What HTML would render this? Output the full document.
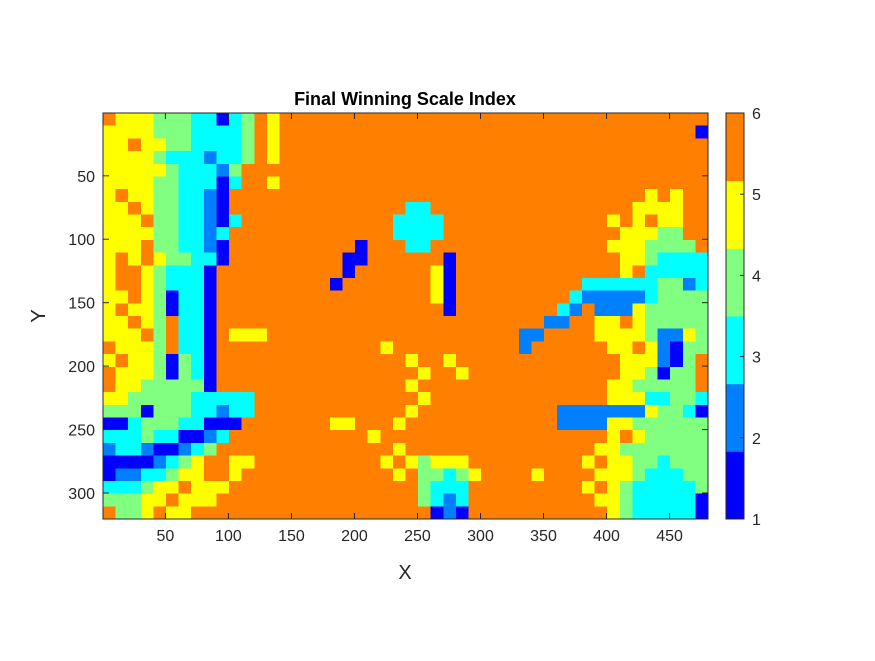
<!DOCTYPE html>
<html><head><meta charset="utf-8"><style>
html,body{margin:0;padding:0;background:#fff;}
svg text{font-family:"Liberation Sans",Arial,sans-serif;fill:#262626;}
</style></head><body>
<svg id="chart" width="875" height="656" viewBox="0 0 875 656" xmlns="http://www.w3.org/2000/svg">
<rect width="875" height="656" fill="#fff"/>
<text x="405" y="105" text-anchor="middle" font-size="18" font-weight="bold" style="fill:#000">Final Winning Scale Index</text>
<g id="heat" shape-rendering="crispEdges"></g>
<g id="axes"></g>
<g id="cbar"></g>
<text x="405" y="579" text-anchor="middle" font-size="20">X</text>
<text x="0" y="0" transform="translate(45,316) rotate(-90)" text-anchor="middle" font-size="20">Y</text>
</svg>
<script>
const xTicks = [50,100,150,200,250,300,350,400,450];
const yTicks = [50,100,150,200,250,300];
const cbarTicks = [1,2,3,4,5,6];
const levelColors = ["#0000FF","#0080FF","#00FFFF","#80FF80","#FFFF00","#FF8000"];
const cellSize = 10;
const gridRows = [
"655544433134"+"656666666666"+"666666666666"+"666666666666",
"555544433334"+"656666666666"+"666666666666"+"666666666661",
"556554433334"+"656666666666"+"666666666666"+"666666666666",
"555543332334"+"656666666666"+"666666666666"+"666666666666",
"555554333246"+"666666666666"+"666666666666"+"666666666666",
"555544333136"+"656666666666"+"666666666666"+"666666666666",
"565544332166"+"666666666666"+"666666666666"+"666666656566",
"556544332166"+"666666666666"+"336666666666"+"666666555566",
"555644332136"+"666666666663"+"333666666666"+"666656565566",
"555544332366"+"666666666663"+"333666666666"+"666665554466",
"555644332166"+"666666661666"+"336666666666"+"666655544446",
"565654433166"+"666666611666"+"666166666666"+"666665543333",
"566543331666"+"666666616666"+"665166666666"+"666665633333",
"566543331666"+"666666166666"+"665166666666"+"663333334423",
"556541331666"+"666666666666"+"665166666666"+"632222234444",
"565541331666"+"666666666666"+"666166666666"+"326222544444",
"556546331666"+"666666666666"+"666666666662"+"266556544444",
"555646331655"+"566666666666"+"666666666226"+"666555542254",
"655546331666"+"666666666656"+"666666666266"+"666655652144",
"565541431666"+"666666666666"+"566566666666"+"666665552146",
"655541431666"+"666666666666"+"656656666666"+"666665541446",
"655444441666"+"666666666666"+"566666666666"+"666655444446",
"554444433333"+"666666666666"+"656666666666"+"666655533443",
"444144433233"+"666666666666"+"566666666666"+"222222254431",
"113444331116"+"666666556665"+"666666666666"+"222255444444",
"333433112366"+"666666666566"+"666666666666"+"666656544444",
"233211234666"+"666666666665"+"666666666666"+"666554444444",
"111123456655"+"666666666656"+"545556666666"+"665655443444",
"122334556656"+"666666666665"+"644345666656"+"666555433344",
"333455655566"+"666666666666"+"643336666666"+"665654333334",
"444556555666"+"666666666666"+"643236666666"+"666554333331",
"644565566666"+"666666666666"+"661216666666"+"666654333331"
];
const NS="http://www.w3.org/2000/svg";
const L=103,R=708,T=113,B=519;
const xScale=v=>L+(v-0.5)/480*(R-L);
const yScale=v=>T+(v-0.5)/320*(B-T);
const heat=document.getElementById('heat');
gridRows.forEach((row,r)=>{
  for(let c=0;c<row.length;c++){
    const v=+row[c];
    const x0=xScale(c*cellSize+0.5), x1=xScale((c+1)*cellSize+0.5);
    const y0=yScale(r*cellSize+0.5), y1=yScale((r+1)*cellSize+0.5);
    const rc=document.createElementNS(NS,'rect');
    rc.setAttribute('x',x0.toFixed(2));rc.setAttribute('y',y0.toFixed(2));
    rc.setAttribute('width',(x1-x0+0.6).toFixed(2));rc.setAttribute('height',(y1-y0+0.6).toFixed(2));
    rc.setAttribute('fill',levelColors[v-1]);
    
    
    heat.appendChild(rc);
  }
});
const axes=document.getElementById('axes');
function line(g,x1,y1,x2,y2,name){const l=document.createElementNS(NS,'line');
  l.setAttribute('x1',x1);l.setAttribute('y1',y1);l.setAttribute('x2',x2);l.setAttribute('y2',y2);
  l.setAttribute('stroke','#262626');l.setAttribute('stroke-width','1');
  
  
  g.appendChild(l);return l;}
function text(g,x,y,s,anchor,name){const t=document.createElementNS(NS,'text');
  t.setAttribute('x',x);t.setAttribute('y',y);t.setAttribute('font-size','16');t.setAttribute('text-anchor',anchor);
  t.textContent=s;
  
  
  g.appendChild(t);}
const box=document.createElementNS(NS,'rect');
box.setAttribute('x',L);box.setAttribute('y',T);box.setAttribute('width',R-L);box.setAttribute('height',B-T);
box.setAttribute('fill','none');box.setAttribute('stroke','#262626');


axes.appendChild(box);
xTicks.forEach(v=>{const x=xScale(v);
  line(axes,x,B,x,B-6,'x-tick');line(axes,x,T,x,T+6,'x-tick-top');
  text(axes,x,B+22,String(v),'middle','x-tick-label');});
yTicks.forEach(v=>{const y=yScale(v);
  line(axes,L,y,L+6,y,'y-tick');line(axes,R,y,R-6,y,'y-tick-right');
  text(axes,L-8,y+6,String(v),'end','y-tick-label');});
const cb=document.getElementById('cbar');
const CL=726,CR=744;
const cbY=v=>B-(v-1)/5*(B-T);
levelColors.forEach((col,i)=>{
  const y0=B-(i+1)*(B-T)/6, h=(B-T)/6;
  const rc=document.createElementNS(NS,'rect');
  rc.setAttribute('x',CL);rc.setAttribute('y',y0.toFixed(2));rc.setAttribute('width',CR-CL);rc.setAttribute('height',(h+0.5).toFixed(2));
  rc.setAttribute('fill',col);
  
  
  cb.appendChild(rc);
});
const cbox=document.createElementNS(NS,'rect');
cbox.setAttribute('x',CL);cbox.setAttribute('y',T);cbox.setAttribute('width',CR-CL);cbox.setAttribute('height',B-T);
cbox.setAttribute('fill','none');cbox.setAttribute('stroke','#262626');


cb.appendChild(cbox);
cbarTicks.forEach(v=>{const y=cbY(v);
  line(cb,CR,y,CR-4,y,'colorbar-tick');
  text(cb,CR+8,y+6,String(v),'start','colorbar-tick-label');});
</script>
</body></html>
